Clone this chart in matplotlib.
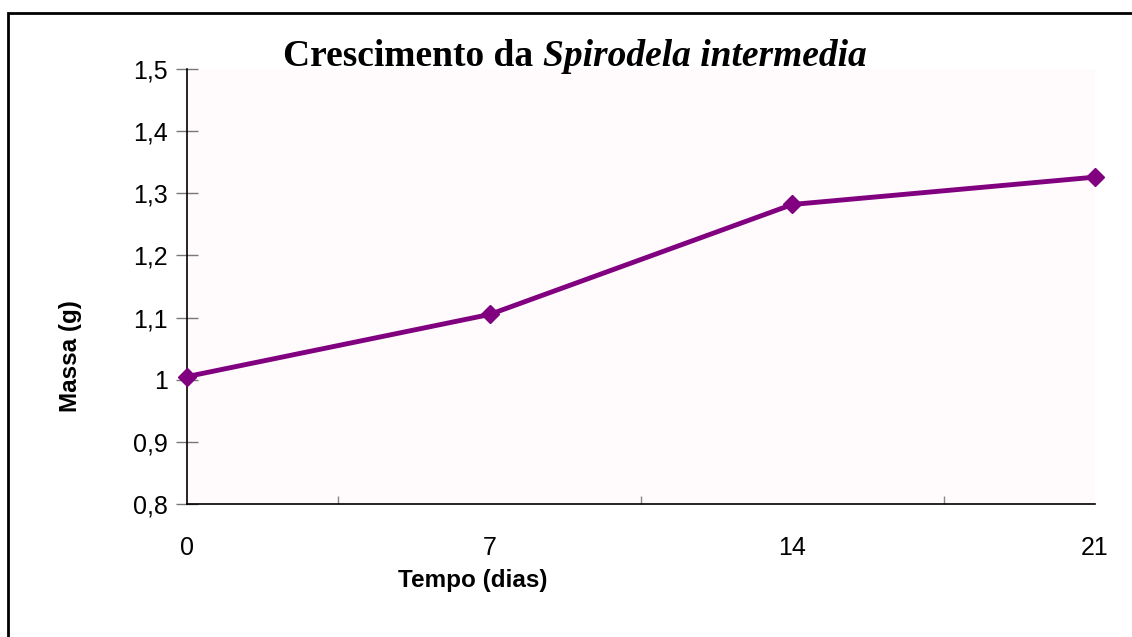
import matplotlib
matplotlib.use("Agg")
import matplotlib.pyplot as plt
from matplotlib.patches import Rectangle
from matplotlib.ticker import FuncFormatter

# data
dias = [0, 7, 14, 21]
massa = [1.005, 1.105, 1.282, 1.326]
yticks = [0.8, 0.9, 1.0, 1.1, 1.2, 1.3, 1.4, 1.5]
xticks_minor = [3.5, 10.5, 17.5, 21]

W, H = 1132, 637
fig = plt.figure(figsize=(W/100, H/100), dpi=100)
fig.patch.set_facecolor('white')

# outer border (right/bottom fall off the image)
fig.patches.append(Rectangle((8/W, -0.05), 1.2, 1 - 13/H + 0.05, transform=fig.transFigure,
                             fill=False, edgecolor='black', linewidth=2))

ax = fig.add_axes([187/W, 1 - 504/H, (1095-187)/W, (504-69)/H])
ax.set_facecolor('#fffafb')
ax.plot(dias, massa, color='#800080', lw=3.5, marker='D', ms=9.5, mec='#800080', clip_on=False, zorder=3)

ax.set_xlim(0, 21)
ax.set_ylim(0.8, 1.5)
for s in ['top', 'right']:
    ax.spines[s].set_visible(False)
ax.spines['left'].set_linewidth(1.2)
ax.spines['bottom'].set_linewidth(1.2)

ax.set_yticks(yticks)
ax.yaxis.set_major_formatter(FuncFormatter(lambda v, p: ('%g' % round(v, 1)).replace('.', ',')))
ax.tick_params(axis='y', direction='inout', length=16, width=1, color='#777777',
               labelsize=18, pad=6)

ax.set_xticks(dias)
ax.set_xticklabels([str(d) for d in dias])
ax.tick_params(axis='x', length=0, labelsize=18, pad=23)
ax.set_xticks(xticks_minor, minor=True)
ax.tick_params(axis='x', which='minor', direction='in', length=6, width=1, color='#888888')

for lab in ax.get_xticklabels() + ax.get_yticklabels():
    lab.set_fontfamily('Liberation Sans')

fig.text(473/W, 1 - 580/H, 'Tempo (dias)', ha='center', va='center',
         fontsize=17.5, fontweight='bold', family='Liberation Sans')
fig.text(70/W, 1 - 356/H, 'Massa (g)', ha='center', va='center', rotation=90,
         fontsize=17.5, fontweight='bold', family='Liberation Sans')

# title: roman part + italic species name, centred together
t1 = fig.text(0, 1 - 57/H, 'Crescimento da ', ha='left', va='center',
              fontsize=27, fontweight='bold', family='Liberation Serif')
t2 = fig.text(0, 1 - 57/H, 'Spirodela intermedia', ha='left', va='center',
              fontsize=27, fontweight='bold', fontstyle='italic', family='Liberation Serif')
r = fig.canvas.get_renderer()
w1 = t1.get_window_extent(r).width
w2 = t2.get_window_extent(r).width
x0 = 575 - (w1 + w2) / 2
t1.set_x(x0 / W)
t2.set_x((x0 + w1) / W)

fig.savefig('out.png', dpi=100)
